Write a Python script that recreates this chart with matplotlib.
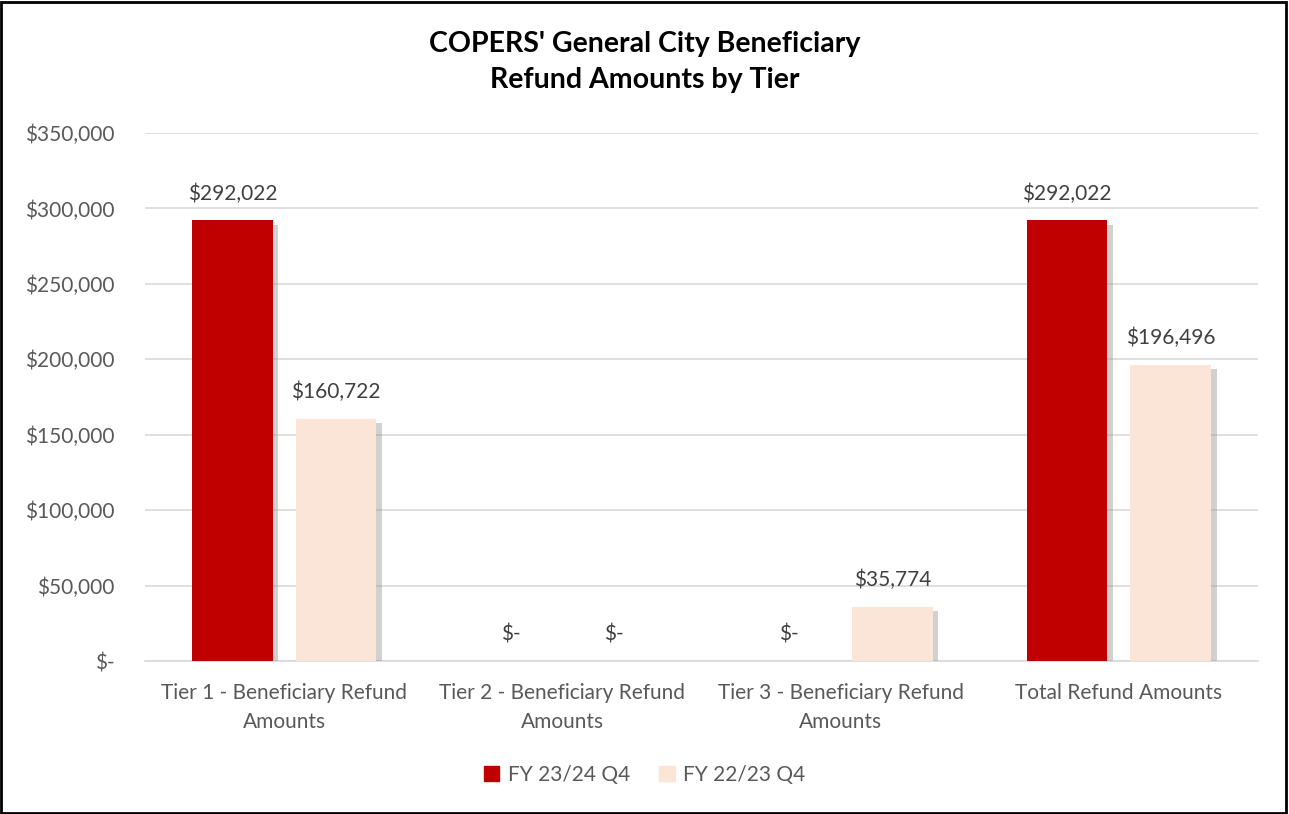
import matplotlib.pyplot as plt
import matplotlib.patheffects as pe
from matplotlib.patches import Rectangle, Patch
from matplotlib.ticker import FuncFormatter
import numpy as np

categories = ['Tier 1 - Beneficiary Refund\nAmounts', 'Tier 2 - Beneficiary Refund\nAmounts',
              'Tier 3 - Beneficiary Refund\nAmounts', 'Total Refund Amounts']
fy2324 = [292022, 0, 0, 292022]
fy2223 = [160722, 0, 35774, 196496]
series_names = ['FY 23/24 Q4', 'FY 22/23 Q4']
colors = ['#c00000', '#fbe5d6']

plt.rcParams['font.family'] = ['Lato', 'DejaVu Sans']
gray = '#595959'

fig = plt.figure(figsize=(12.89, 8.14), dpi=100)
ax = fig.add_axes([145 / 1289, 1 - 661 / 814, 1113 / 1289, 528 / 814])

x = np.arange(len(categories))
w = 0.29
off = 0.186
shadow = [pe.SimplePatchShadow(offset=(4, -3), shadow_rgbFace='#999999', alpha=0.45), pe.Normal()]
b1 = ax.bar(x - off, fy2324, w, color=colors[0], zorder=3)
b2 = ax.bar(x + off, fy2223, w, color=colors[1], zorder=3)
for bars in (b1, b2):
    for b in bars:
        if b.get_height() > 0:
            b.set_path_effects(shadow)

def money(v):
    return '$-' if v == 0 else '${:,.0f}'.format(v)

# etiquetas de valor encima de cada barra
for bars, vals in ((b1, fy2324), (b2, fy2223)):
    for b, v in zip(bars, vals):
        ax.annotate(money(v), (b.get_x() + b.get_width() / 2, v), xytext=(0, 12),
                    textcoords='offset points', ha='center', va='bottom',
                    fontsize=15, color='#404040', zorder=4)

ax.set_xlim(-0.5, 3.5)
ax.set_ylim(0, 350000)
ax.set_yticks(np.arange(0, 350001, 50000))
ax.yaxis.set_major_formatter(FuncFormatter(lambda v, p: money(v)))
ax.set_xticks(x)
ax.set_xticklabels(categories, linespacing=1.55)
ax.tick_params(length=0, labelsize=15, labelcolor=gray)
ax.tick_params(axis='y', pad=22)
ax.tick_params(axis='x', pad=16)
ax.grid(axis='y', color='#d9d9d9', linewidth=1.2, zorder=0)
for s in ('top', 'right', 'left'):
    ax.spines[s].set_visible(False)
ax.spines['bottom'].set_color('#d9d9d9')
ax.spines['bottom'].set_linewidth(1.2)

fig.text(0.5, 1 - 62 / 814, "COPERS' General City Beneficiary\nRefund Amounts by Tier",
         ha='center', va='center', fontsize=20.5, fontweight='bold', color='black',
         linespacing=1.45)

handles = [Patch(color=c) for c in colors]
fig.legend(handles=handles, labels=series_names, loc='center', bbox_to_anchor=(0.5, 1 - 775 / 814),
           ncol=2, frameon=False, fontsize=15, labelcolor=gray, handlelength=0.75,
           handleheight=0.75, columnspacing=1.4, handletextpad=0.4)

fig.patches.append(Rectangle((0.001, 0.001), 0.997, 0.997, transform=fig.transFigure,
                             fill=False, edgecolor='black', linewidth=2))

fig.savefig('out.png', dpi=100)
